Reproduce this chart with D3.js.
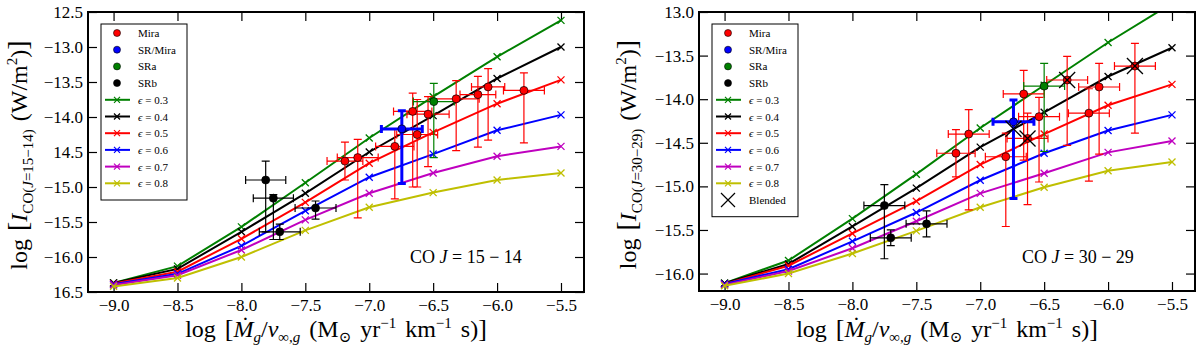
<!DOCTYPE html>
<meta charset="utf-8">
<script src="https://d3js.org/d3.v7.min.js"></script>
<style>
  body { margin: 0; background: #fff; }
  svg text { font-family: "Liberation Serif", "DejaVu Serif", serif; fill: #000; }
</style>
<div id="chart"></div>
<script>
// model grid (log Mdot/v) and the tick labels
var gridX = [-9.0, -8.5, -8.0, -7.5, -7.0, -6.5, -6.0, -5.5];
var xTicks = [-9.0, -8.5, -8.0, -7.5, -7.0, -6.5, -6.0, -5.5];
var xTickLabels = ["\u22129.0", "\u22128.5", "\u22128.0", "\u22127.5", "\u22127.0", "\u22126.5", "\u22126.0", "\u22125.5"];

var epsLabels = ["0.3", "0.4", "0.5", "0.6", "0.7", "0.8"];
var epsColors = ["#008000", "#000000", "#ff0000", "#0000ff", "#bf00bf", "#bfbf00"];

// CO J=15-14 models, one array per epsilon
var j15_e03 = [-16.37, -16.13, -15.57, -14.94, -14.30, -13.71, -13.14, -12.62];
var j15_e04 = [-16.37, -16.17, -15.64, -15.09, -14.50, -13.98, -13.45, -13.00];
var j15_e05 = [-16.38, -16.21, -15.74, -15.22, -14.66, -14.22, -13.81, -13.47];
var j15_e06 = [-16.39, -16.24, -15.84, -15.34, -14.86, -14.53, -14.19, -13.97];
var j15_e07 = [-16.40, -16.26, -15.90, -15.47, -15.09, -14.80, -14.56, -14.42];
var j15_e08 = [-16.42, -16.30, -16.00, -15.62, -15.29, -15.08, -14.90, -14.80];

// CO J=30-29 models
var j30_e03 = [-16.11, -15.85, -15.37, -14.86, -14.33, -13.84, -13.35, -12.90];
var j30_e04 = [-16.11, -15.89, -15.46, -15.02, -14.55, -14.15, -13.74, -13.41];
var j30_e05 = [-16.12, -15.91, -15.54, -15.17, -14.75, -14.40, -14.07, -13.83];
var j30_e06 = [-16.12, -15.95, -15.63, -15.30, -14.93, -14.62, -14.36, -14.18];
var j30_e07 = [-16.13, -15.97, -15.71, -15.40, -15.08, -14.85, -14.61, -14.48];
var j30_e08 = [-16.14, -16.00, -15.77, -15.51, -15.24, -15.01, -14.82, -14.72];

// observations: [x, y, xerr, yerr up, yerr down]
var j15_mira = [
  [-7.19, -14.63, 0.14, 0.27, 0.27],
  [-7.09, -14.58, 0.16, 0.26, 0.86],
  [-6.80, -14.42, 0.15, 0.25, 0.75],
  [-6.66, -13.92, 0.15, 0.26, 1.08],
  [-6.625, -14.25, 0.16, 0.50, 0.75],
  [-6.54, -13.96, 0.165, 0.25, 0.75],
  [-6.32, -13.74, 0.18, 0.26, 0.74],
  [-6.15, -13.68, 0.14, 0.26, 0.75],
  [-6.07, -13.57, 0.13, 0.26, 0.76],
  [-5.79, -13.62, 0.16, 0.25, 0.75]
];
var j15_srmira = [[-6.745, -14.17, 0.16, 0.26, 0.78]];
var j15_sra = [[-6.495, -13.78, 0.16, 0.26, 0.80]];
var j15_srb = [
  [-7.81, -14.90, 0.157, 0.27, 0.74],
  [-7.75, -15.16, 0.157, 0.05, 0.59],
  [-7.42, -15.30, 0.16, 0.10, 0.16],
  [-7.70, -15.64, 0.16, 0.11, 0.11]
];

var j30_mira = [
  [-7.19, -14.62, 0.15, 0.27, 0.27],
  [-7.09, -14.40, 0.16, 0.28, 0.87],
  [-6.80, -14.66, 0.16, 0.27, 0.80],
  [-6.66, -13.94, 0.16, 0.27, 0.76],
  [-6.63, -14.45, 0.16, 0.29, 0.76],
  [-6.54, -14.20, 0.16, 0.22, 0.75],
  [-6.32, -13.78, 0.16, 0.27, 0.75],
  [-6.15, -14.16, 0.16, 0.28, 0.78],
  [-6.07, -13.86, 0.16, 0.27, 0.77],
  [-5.79, -13.62, 0.16, 0.26, 0.77]
];
var j30_srmira = [[-6.74, -14.26, 0.16, 0.25, 0.88]];
var j30_sra = [[-6.50, -13.85, 0.16, 0.26, 0.75]];
var j30_srb = [
  [-7.75, -15.22, 0.16, 0.24, 0.61],
  [-7.70, -15.59, 0.16, 0.09, 0.09],
  [-7.42, -15.43, 0.16, 0.15, 0.15]
];
var j30_blended = [[-6.74, -14.34], [-6.63, -14.45], [-6.32, -13.78], [-5.79, -13.62]];

// y ticks (labels as printed in the figure)
var j15YTicks = [-16.5, -16.0, -15.5, -15.0, -14.5, -14.0, -13.5, -13.0, -12.5];
var j15YLabels = ["16.5", "\u221216.0", "\u221215.5", "\u221215.0", "14.5", "\u221214.0", "\u221213.5", "\u221213.0", "12.5"];
var j30YTicks = [-16.0, -15.5, -15.0, -14.5, -14.0, -13.5, -13.0];
var j30YLabels = ["\u221216.0", "\u221215.5", "\u221215.0", "\u221214.5", "\u221214.0", "\u221213.5", "13.0"];

var obsClasses = [
  {name: "Mira", color: "#ff0000", lw: 1.2},
  {name: "SR/Mira", color: "#0000ff", lw: 3},
  {name: "SRa", color: "#008000", lw: 1.2},
  {name: "SRb", color: "#000000", lw: 1.2}
];

var svg = d3.select("#chart").append("svg")
  .attr("width", 1200).attr("height", 351);

function drawPanel(p) {
  var g = svg.append("g");
  var x = d3.scaleLinear().domain([-9.2, -5.32]).range([p.left, p.right]);
  var y = d3.scaleLinear().domain(p.yDomain).range([p.bottom, p.top]);

  g.append("clipPath").attr("id", p.id + "clip")
    .append("rect")
    .attr("x", p.left).attr("y", p.top)
    .attr("width", p.right - p.left).attr("height", p.bottom - p.top);

  // axes, ticks pointing inwards on all four sides
  var ax = g.append("g").attr("transform", "translate(0," + p.bottom + ")")
    .call(d3.axisBottom(x).tickValues(xTicks)
      .tickFormat(function(d, i) { return xTickLabels[i]; })
      .tickSize(-9).tickPadding(7));
  ax.selectAll("text").attr("font-size", 17).attr("font-family", null);
  g.append("g").attr("transform", "translate(0," + p.top + ")")
    .call(d3.axisTop(x).tickValues(xTicks).tickFormat("").tickSize(-9));
  var ay = g.append("g").attr("transform", "translate(" + p.left + ",0)")
    .call(d3.axisLeft(y).tickValues(p.yTicks)
      .tickFormat(function(d, i) { return p.yLabels[i]; })
      .tickSize(-9).tickPadding(5));
  ay.selectAll("text").attr("font-size", 17).attr("font-family", null);
  g.append("g").attr("transform", "translate(" + p.right + ",0)")
    .call(d3.axisRight(y).tickValues(p.yTicks).tickFormat("").tickSize(-9));
  g.selectAll(".domain").remove();
  g.selectAll(".tick line").attr("stroke", "#000").attr("stroke-width", 1.2);

  var plot = g.append("g").attr("clip-path", "url(#" + p.id + "clip)");

  // model curves
  var line = d3.line()
    .x(function(d, i) { return x(gridX[i]); })
    .y(function(d) { return y(d); });
  p.models.forEach(function(m, k) {
    plot.append("path")
      .attr("d", line(m))
      .attr("fill", "none")
      .attr("stroke", epsColors[k])
      .attr("stroke-width", 2);
    plot.selectAll(null).data(m).enter().append("path")
      .attr("d", function(d, i) {
        var cx = x(gridX[i]), cy = y(d), s = 3.5;
        return "M" + (cx - s) + "," + (cy - s) + "L" + (cx + s) + "," + (cy + s) +
               "M" + (cx - s) + "," + (cy + s) + "L" + (cx + s) + "," + (cy - s);
      })
      .attr("stroke", epsColors[k])
      .attr("stroke-width", 1.3);
  });

  // observations with error bars
  p.obs.forEach(function(set, k) {
    var c = obsClasses[k];
    var eb = plot.append("g").attr("stroke", c.color).attr("stroke-width", c.lw).attr("fill", "none");
    set.forEach(function(d) {
      var cx = x(d[0]), cy = y(d[1]);
      var x0 = x(d[0] - d[2]), x1 = x(d[0] + d[2]);
      var yUp = y(d[1] + d[3]), yDn = y(d[1] - d[4]);
      var cap = 4;
      eb.append("path").attr("d",
        "M" + x0 + "," + cy + "H" + x1 +
        "M" + x0 + "," + (cy - cap) + "V" + (cy + cap) +
        "M" + x1 + "," + (cy - cap) + "V" + (cy + cap) +
        "M" + cx + "," + yUp + "V" + yDn +
        "M" + (cx - cap) + "," + yUp + "H" + (cx + cap) +
        "M" + (cx - cap) + "," + yDn + "H" + (cx + cap));
    });
  });
  p.obs.forEach(function(set, k) {
    var c = obsClasses[k];
    plot.selectAll(null).data(set).enter().append("circle")
      .attr("cx", function(d) { return x(d[0]); })
      .attr("cy", function(d) { return y(d[1]); })
      .attr("r", 4)
      .attr("fill", c.color)
      .attr("stroke", "#000")
      .attr("stroke-width", 0.7);
  });
  if (p.blended) {
    plot.selectAll(null).data(p.blended).enter().append("path")
      .attr("d", function(d) {
        var cx = x(d[0]), cy = y(d[1]), s = 8;
        return "M" + (cx - s) + "," + (cy - s) + "L" + (cx + s) + "," + (cy + s) +
               "M" + (cx - s) + "," + (cy + s) + "L" + (cx + s) + "," + (cy - s);
      })
      .attr("stroke", "#000").attr("stroke-width", 1.3);
  }

  // frame
  g.append("rect")
    .attr("x", p.left).attr("y", p.top)
    .attr("width", p.right - p.left).attr("height", p.bottom - p.top)
    .attr("fill", "none").attr("stroke", "#000").attr("stroke-width", 2);

  // legend
  var n = 10 + (p.blended ? 1 : 0);
  var lg = g.append("g").attr("transform", "translate(" + p.legX + ",24)");
  lg.append("rect").attr("width", 86).attr("height", 9 + n * 16.7)
    .attr("fill", "#fff").attr("stroke", "#000").attr("stroke-width", 1);
  obsClasses.forEach(function(c, i) {
    var ly = 9 + i * 16.7;
    lg.append("circle").attr("cx", 16).attr("cy", ly).attr("r", 3.5)
      .attr("fill", c.color).attr("stroke", "#000").attr("stroke-width", 0.6);
    lg.append("text").attr("x", 37).attr("y", ly + 4).attr("font-size", 11).text(c.name);
  });
  epsLabels.forEach(function(e, i) {
    var ly = 9 + (i + 4) * 16.7;
    lg.append("line").attr("x1", 4).attr("x2", 29).attr("y1", ly).attr("y2", ly)
      .attr("stroke", epsColors[i]).attr("stroke-width", 2);
    lg.append("path")
      .attr("d", "M13,"+(ly-3)+"L19,"+(ly+3)+"M13,"+(ly+3)+"L19,"+(ly-3))
      .attr("stroke", epsColors[i]).attr("stroke-width", 1.2);
    var t = lg.append("text").attr("x", 37).attr("y", ly + 4).attr("font-size", 11);
    t.append("tspan").attr("font-style", "italic").text("\u03f5");
    t.append("tspan").text(" = " + e);
  });
  if (p.blended) {
    var ly = 9 + 10 * 16.7;
    lg.append("path")
      .attr("d", "M9," + (ly - 7) + "L23," + (ly + 7) + "M9," + (ly + 7) + "L23," + (ly - 7))
      .attr("stroke", "#000").attr("stroke-width", 1.2);
    lg.append("text").attr("x", 37).attr("y", ly + 4).attr("font-size", 11).text("Blended");
  }

  // transition annotation
  var an = g.append("text").attr("x", p.annX).attr("y", 263).attr("font-size", 18);
  an.append("tspan").text("CO ");
  an.append("tspan").attr("font-style", "italic").text("J");
  an.append("tspan").text(" = " + p.trans);

  // y label
  var yl = g.append("text")
    .attr("transform", "translate(" + p.yLabX + "," + ((p.top + p.bottom) / 2 + 3) + ") rotate(-90)")
    .attr("text-anchor", "middle").attr("font-size", 24).attr("word-spacing", 2);
  yl.append("tspan").text("log ");
  yl.append("tspan").attr("font-size", 28).text("[");
  yl.append("tspan").attr("font-style", "italic").text("I");
  yl.append("tspan").attr("font-size", 15).attr("dy", 6).text("CO(");
  yl.append("tspan").attr("font-size", 15).attr("font-style", "italic").text("J");
  yl.append("tspan").attr("font-size", 15).text("=" + p.trans.replace(/ /g, "") + ")");
  yl.append("tspan").attr("dy", -6).text(" (W/m");
  yl.append("tspan").attr("font-size", 15).attr("dy", -10).text("2");
  yl.append("tspan").attr("dy", 10).text(")");
  yl.append("tspan").attr("font-size", 28).text("]");

  // x label
  var xl = g.append("text")
    .attr("x", (p.left + p.right) / 2).attr("y", 337)
    .attr("text-anchor", "middle").attr("font-size", 24).attr("word-spacing", 3);
  xl.append("tspan").text("log ");
  xl.append("tspan").attr("font-size", 26).text("[");
  xl.append("tspan").attr("font-style", "italic").text("\u1e40");
  xl.append("tspan").attr("font-size", 15).attr("font-style", "italic").attr("dy", 5).text("g");
  xl.append("tspan").attr("dy", -5).text("/");
  xl.append("tspan").attr("font-style", "italic").text("v");
  xl.append("tspan").attr("font-size", 15).attr("dy", 5).text("\u221e,");
  xl.append("tspan").attr("font-size", 15).attr("font-style", "italic").text("g");
  xl.append("tspan").attr("dy", -5).text(" (M");
  xl.append("tspan").attr("font-size", 15).attr("dy", 5).text("\u2299");
  xl.append("tspan").attr("dy", -5).text(" yr");
  xl.append("tspan").attr("font-size", 15).attr("dy", -9).text("\u22121");
  xl.append("tspan").attr("dy", 9).text(" km");
  xl.append("tspan").attr("font-size", 15).attr("dy", -9).text("\u22121");
  xl.append("tspan").attr("dy", 9).text(" s)");
  xl.append("tspan").attr("font-size", 26).text("]");
}

drawPanel({
  id: "j15", left: 88, right: 584, top: 12, bottom: 292,
  yDomain: [-16.5, -12.5], yTicks: j15YTicks, yLabels: j15YLabels,
  models: [j15_e03, j15_e04, j15_e05, j15_e06, j15_e07, j15_e08],
  obs: [j15_mira, j15_srmira, j15_sra, j15_srb],
  legX: 101, annX: 410, trans: "15 \u2212 14", yLabX: 27
});
drawPanel({
  id: "j30", left: 699, right: 1195, top: 12, bottom: 291,
  yDomain: [-16.2, -13.0], yTicks: j30YTicks, yLabels: j30YLabels,
  models: [j30_e03, j30_e04, j30_e05, j30_e06, j30_e07, j30_e08],
  obs: [j30_mira, j30_srmira, j30_sra, j30_srb],
  blended: j30_blended,
  legX: 712, annX: 1022, trans: "30 \u2212 29", yLabX: 636
});
</script>
